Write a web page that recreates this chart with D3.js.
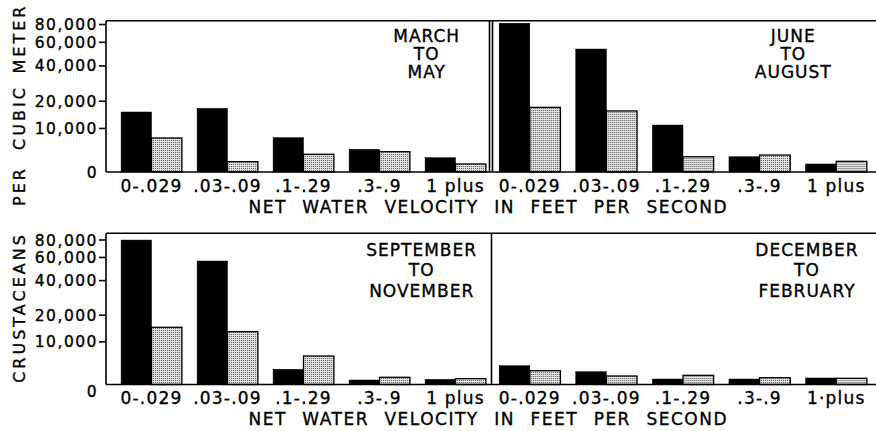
<!DOCTYPE html>
<html><head><meta charset="utf-8">
<script src="https://cdn.jsdelivr.net/npm/d3@7/dist/d3.min.js"></script>
<style>
body{margin:0;background:#fff}
svg{display:block}
text{font-family:"DejaVu Sans",sans-serif;fill:#000;stroke:#000;stroke-width:0.35px}
</style>
</head><body>
<svg id="chart" width="876" height="431"></svg>
<script>
// ---------- data ----------
const categories = ["0-.029", ".03-.09", ".1-.29", ".3-.9", "1 plus"];
const seriesKeys = ["dark", "stippled"];
const marMayDark = [15400, 16800, 7240, 4400, 2610];
const marMayStip = [7160, 1830, 3310, 3870, 1400];
const junAugDark = [81000, 53200, 10900, 2800, 1400];
const junAugStip = [17200, 15800, 2800, 3150, 1900];
const sepNovDark = [79300, 56000, 2860, 780, 910];
const sepNovStip = [14800, 13200, 5900, 1280, 1020];
const decFebDark = [3630, 2360, 960, 960, 1150];
const decFebStip = [2570, 1520, 1650, 1200, 1090];
const yTickValues = [0, 10000, 20000, 40000, 60000, 80000];
const seasonLabels = [
  ["MARCH", "TO", "MAY"],
  ["JUNE", "TO", "AUGUST"],
  ["SEPTEMBER", "TO", "NOVEMBER"],
  ["DECEMBER", "TO", "FEBRUARY"]
];
const xAxisTitle = "NET WATER VELOCITY IN FEET PER SECOND";
const yAxisTitleWords = ["CRUSTACEANS", "PER", "CUBIC", "METER"];

// ---------- layout ----------
const svg = d3.select("#chart");
const W = 876;
const axisX = 106;
const rows = [
  {top: 20.7, base: 172, h80: 148, labelY0: 41.7, labelDy: 18.3, zeroDy: 0},
  {top: 233.3, base: 384.5, h80: 145, labelY0: 255.5, labelDy: 20.5, zeroDy: 6}
];
const cols = [
  {range: [113.5, 493.5]},
  {range: [491.5, 874.5]}
];
const panels = [
  {row: 0, col: 0, dark: marMayDark, stip: marMayStip, season: 0, lx: 426.7, labels: categories},
  {row: 0, col: 1, dark: junAugDark, stip: junAugStip, season: 1, lx: 793.3, labels: categories},
  {row: 1, col: 0, dark: sepNovDark, stip: sepNovStip, season: 2, lx: 421.7, labels: categories},
  {row: 1, col: 1, dark: decFebDark, stip: decFebStip, season: 3, lx: 807, labels: categories.map(c => c === "1 plus" ? "1\u00b7plus" : c)}
];
// centres (along the rotated axis) of the y-title words
const yTitleCentres = [307.5, 186, 117.5, 38.5];

// stipple pattern
const defs = svg.append("defs");
const pat = defs.append("pattern").attr("id", "stip")
  .attr("width", 2).attr("height", 2).attr("patternUnits", "userSpaceOnUse");
pat.append("rect").attr("width", 2).attr("height", 2).attr("fill", "#e2e2e2");
pat.append("rect").attr("width", 1).attr("height", 1).attr("fill", "#5e5e5e");

const yScales = rows.map(r =>
  d3.scaleSymlog().constant(12000).domain([0, 80000]).range([r.base, r.base - r.h80]));

// bars
panels.forEach(p => {
  const r = rows[p.row];
  const y = yScales[p.row];
  const x0 = d3.scaleBand().domain(categories).range(cols[p.col].range)
    .paddingInner(0.2).paddingOuter(0.1);
  const x1 = d3.scaleBand().domain(seriesKeys).range([0, x0.bandwidth()]);
  const data = categories.map((c, i) => ({cat: c, dark: p.dark[i], stippled: p.stip[i]}));
  const g = svg.append("g");
  const grp = g.selectAll("g.grp").data(data).join("g")
    .attr("transform", d => `translate(${x0(d.cat)},0)`);
  grp.selectAll("rect").data(d => seriesKeys.map(k => ({k, v: d[k]}))).join("rect")
    .attr("x", d => x1(d.k))
    .attr("y", d => y(d.v))
    .attr("width", x1.bandwidth())
    .attr("height", d => r.base - y(d.v))
    .attr("fill", d => d.k === "dark" ? "#000" : "url(#stip)")
    .attr("stroke", "#000")
    .attr("stroke-width", d => d.k === "dark" ? 0.5 : 1.3);

  // category labels
  g.selectAll("text.cat").data(categories).join("text")
    .attr("class", "cat")
    .attr("x", d => x0(d) + x0.bandwidth() / 2)
    .attr("y", r.base + 19.5)
    .attr("text-anchor", "middle")
    .style("font-size", "17px")
    .style("letter-spacing", "1.2px")
    .text((d, i) => p.labels[i]);

  // season label
  seasonLabels[p.season].forEach((t, i) => {
    g.append("text")
      .attr("x", p.lx).attr("y", r.labelY0 + i * r.labelDy)
      .attr("text-anchor", "middle")
      .style("font-size", "17px")
      .style("letter-spacing", "1px")
      .text(t);
  });
});

// frames
const lw = 1.6;
rows.forEach((r, ri) => {
  svg.append("line").attr("x1", axisX).attr("x2", W).attr("y1", r.top).attr("y2", r.top)
    .attr("stroke", "#000").attr("stroke-width", lw);
  svg.append("line").attr("x1", axisX).attr("x2", W).attr("y1", r.base).attr("y2", r.base)
    .attr("stroke", "#000").attr("stroke-width", lw);
  svg.append("line").attr("x1", axisX).attr("x2", axisX).attr("y1", r.top).attr("y2", r.base)
    .attr("stroke", "#000").attr("stroke-width", lw);
  const dividers = ri === 0 ? [489.5, 492.5] : [491.5];
  dividers.forEach(dx => svg.append("line").attr("x1", dx).attr("x2", dx)
    .attr("y1", r.top).attr("y2", r.base).attr("stroke", "#000").attr("stroke-width", lw));

  // y axis
  const ax = svg.append("g").attr("transform", `translate(${axisX},0)`)
    .call(d3.axisLeft(yScales[ri]).tickValues(yTickValues).tickFormat(d3.format(","))
      .tickSize(7).tickPadding(1));
  ax.select(".domain").remove();
  ax.selectAll(".tick line").attr("stroke", "#000").attr("stroke-width", lw)
    .filter(d => d === 0).remove();
  ax.selectAll(".tick text")
    .style("font-size", "15.5px").style("letter-spacing", "1.5px")
    .style("font-family", '"DejaVu Sans",sans-serif').attr("fill", "#000")
    .attr("dy", d => d === 0 ? (r.zeroDy + 5.5) : 5.5);

  // x axis title
  svg.append("text")
    .attr("x", 248.5).attr("y", r.base + 40.5)
    .style("font-size", "17px")
    .style("letter-spacing", "1.5px")
    .style("word-spacing", "8.6px")
    .text(xAxisTitle);
});

// y axis title, one word at a time along the rotated axis
yAxisTitleWords.forEach((w, i) => {
  svg.append("text")
    .attr("transform", `translate(25,${yTitleCentres[i]}) rotate(-90)`)
    .attr("text-anchor", "middle")
    .style("font-size", "16px")
    .style("letter-spacing", "3px")
    .text(w);
});
</script>
</body></html>
